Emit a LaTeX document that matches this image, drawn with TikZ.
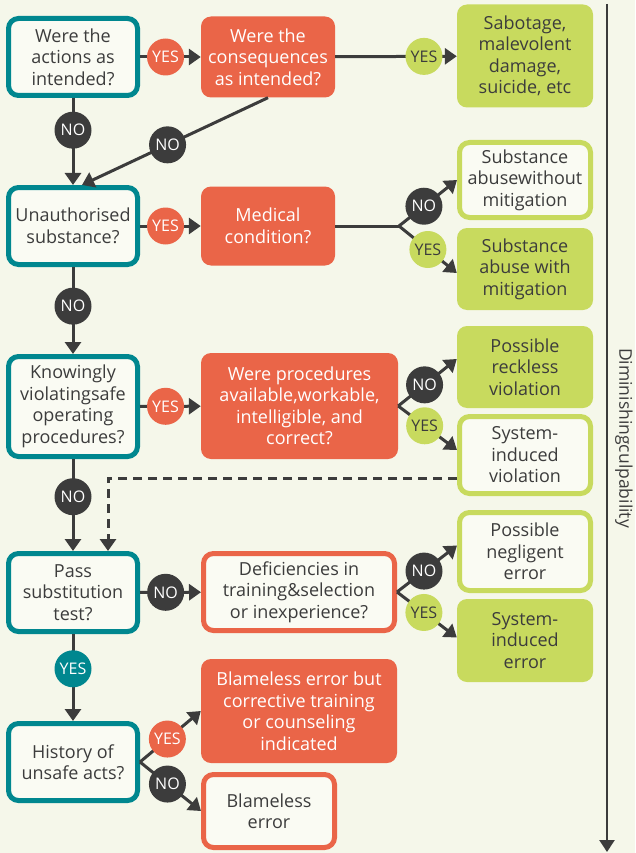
\documentclass[tikz,border=0pt]{standalone}
\usepackage{fontspec}
\setmainfont{Open Sans}
\usetikzlibrary{arrows.meta}
\definecolor{paper}{HTML}{F5F7EA}
\definecolor{inside}{HTML}{FAFBF3}
\definecolor{tealc}{HTML}{00878F}
\definecolor{orng}{HTML}{EA6548}
\definecolor{lime}{HTML}{C8DA5E}
\definecolor{ink}{HTML}{3C3C3C}
\newcommand\bxfont{\fontsize{18}{21.5}\selectfont}
\newcommand\lbfont{\fontsize{16}{16}\selectfont}
\newcommand\axfont{\fontsize{17.5}{17.5}\selectfont}
\begin{document}
\begin{tikzpicture}[x=1pt,y=-1pt,
  box/.style={rounded corners=10pt, align=center, inner sep=0pt, text=ink, font=\bxfont},
  qbox/.style={box, draw=tealc, line width=5pt, fill=inside, minimum width=129pt},
  ofill/.style={box, fill=orng, text=white},
  oline/.style={box, draw=orng, line width=5pt, fill=inside},
  gfill/.style={box, fill=lime, minimum width=136pt},
  gline/.style={box, draw=lime, line width=5pt, fill=inside, minimum width=131pt},
  conn/.style={draw=ink, line width=3pt, -{Triangle[width=16pt,length=12pt]}},
  dconn/.style={conn, dash pattern=on 9pt off 6pt},
  lbl/.style={circle, minimum size=37pt, inner sep=0pt, font=\lbfont},
  yes/.style={lbl, fill=orng, text=white},
  no/.style={lbl, fill=ink, text=white},
  gyes/.style={lbl, fill=lime, text=ink},
  tyes/.style={lbl, fill=tealc, text=white}]

% page
\fill[paper] (0,0) rectangle (635,853);
\useasboundingbox (0,0) rectangle (635,853);

% question column
\node[qbox, minimum height=77pt]  (b1) at (73,57)    {Were the\\actions as\\intended?};
\node[qbox, minimum height=77pt]  (b2) at (73,226)   {Unauthorised\\substance?};
\node[qbox, minimum height=100pt] (b3) at (73,406.5) {Knowingly\\violatingsafe\\operating\\procedures?};
\node[qbox, minimum height=78pt]  (b4) at (73,592.5) {Pass\\substitution\\test?};
\node[qbox, minimum height=77pt]  (b5) at (73,762)   {History of\\unsafe acts?};

% follow-up questions
\node[ofill, minimum width=134pt, minimum height=81pt]  (o1) at (268,57)    {Were the\\consequences\\as intended?};
\node[ofill, minimum width=134pt, minimum height=79pt]  (o2) at (268,226)   {Medical\\condition?};
\node[ofill, minimum width=197pt, minimum height=106pt] (o3) at (299.5,406) {Were procedures\\available,workable,\\intelligible, and\\correct?};
\node[oline, minimum width=191pt, minimum height=77pt]  (o4) at (299,592)   {Deficiencies in\\training\&selection\\or inexperience?};
\node[ofill, minimum width=196pt, minimum height=104pt] (o5) at (299,711)   {Blameless error but\\corrective training\\or counseling\\indicated};
\node[oline, minimum width=131pt, minimum height=73pt]  (o6) at (269,811)   {Blameless\\error};

% outcomes
\node[gfill, minimum height=103pt] (g1) at (525,56)    {Sabotage,\\malevolent\\damage,\\suicide, etc};
\node[gline, minimum height=75pt]  (g2) at (525,180)   {Substance\\abusewithout\\mitigation};
\node[gfill, minimum height=82pt]  (g3) at (525,269)   {Substance\\abuse with\\mitigation};
\node[gfill, minimum height=82pt]  (g4) at (525,367)   {Possible\\reckless\\violation};
\node[gline, minimum height=77pt]  (g5) at (525,455)   {System-\\induced\\violation};
\node[gline, minimum height=78pt]  (g6) at (525,551.5) {Possible\\negligent\\error};
\node[gfill, minimum height=83pt]  (g7) at (525,640.5) {System-\\induced\\error};

% branch points
\coordinate (s1) at (399,226);
\coordinate (s2) at (o3.east);
\coordinate (s3) at (o4.east);
\coordinate (s4) at (b5.east);

% main flow
\draw[conn] (b1) -- node[yes, pos=0.42] {YES} (o1);
\draw[conn] (o1) -- node[gyes, pos=0.73] {YES} (g1);
\draw[conn] (b1) -- node[no, pos=0.37] {NO} (b2);
\draw[conn] (o1.south) -- node[no, pos=0.54] {NO} ([xshift=9pt]b2.north);

\draw[conn] (b2) -- node[yes, pos=0.42] {YES} (o2);
\draw[draw=ink, line width=3pt] (o2.east) -- (s1);
\draw[conn] (s1) -- node[no, pos=0.43] {NO} (g2.west);
\draw[conn] (s1) -- node[gyes, pos=0.5] {YES} ([yshift=-4pt]g3.west);
\draw[conn] (b2) -- node[no, pos=0.45] {NO} (b3);

\draw[conn] (b3) -- node[yes, pos=0.42] {YES} (o3);
\draw[conn] (s2) -- node[no, pos=0.45] {NO} ([yshift=8pt]g4.west);
\draw[conn] (s2) -- node[gyes, pos=0.45] {YES} ([yshift=5pt]g5.west);
\draw[conn] (b3) -- node[no, pos=0.41] {NO} (b4);
\draw[dconn] ([yshift=-23pt]g5.west) -| ([xshift=35pt]b4.north);

\draw[conn] (b4) -- node[no, pos=0.42] {NO} (o4);
\draw[conn] (s3) -- node[no, pos=0.45] {NO} ([yshift=6pt]g6.west);
\draw[conn] (s3) -- node[gyes, pos=0.45] {YES} ([yshift=3pt]g7.west);
\draw[conn] (b4) -- node[tyes, pos=0.4] {YES} (b5);

\draw[conn] (s4) -- node[yes, pos=0.45] {YES} (o5.west);
\draw[conn] (s4) -- node[no, pos=0.45] {NO} (o6.west);

% culpability axis
\coordinate (ax1) at (607,4);
\coordinate (ax2) at (607,852);
\draw[draw=ink, line width=2.5pt, -{Triangle[width=15pt,length=12pt]}] (ax1) -- (ax2);
\node[rotate=-90, text=ink, font=\axfont] (axlbl) at (624,438) {Diminishingculpability};
\end{tikzpicture}
\end{document}
